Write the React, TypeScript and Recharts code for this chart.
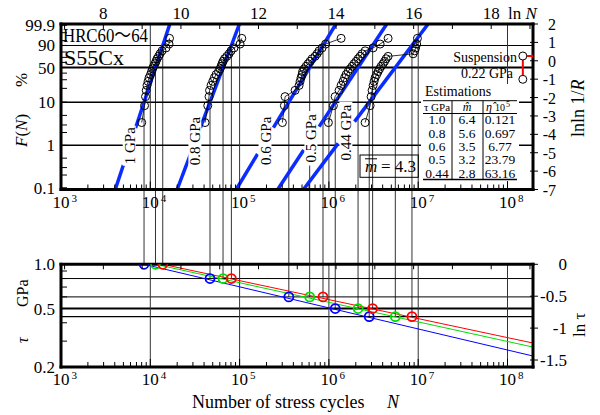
import React from 'react';
import { ComposedChart, Line, Scatter, XAxis, YAxis } from 'recharts';

const FONT = '"Liberation Serif", "Times New Roman", Times, serif';
const W = 600;
const H = 415;

// ---------------- axis ranges ----------------
const LN10 = Math.log(10);
const LN_MIN = Math.log(1000);
const LN_MAX = 19.078;
const W_MIN = -7;
const W_MAX = 2;
const LNTAU_MIN = Math.log(0.2);

// ---------------- categories / table ----------------
const levelLabels = ['1 GPa', '0.8 GPa', '0.6 GPa', '0.5 GPa', '0.44 GPa'];
const tauLevels = [1.0, 0.8, 0.6, 0.5, 0.44];
const tauText = ['1.0', '0.8', '0.6', '0.5', '0.44'];
const mHatText = ['6.4', '5.6', '3.5', '3.2', '2.8'];
const etaHatText = ['0.121', '0.697', '6.77', '23.79', '63.16'];
const mBarText = '4.3';

// ---------------- Weibull plot data: ordinate lnln(1/R) of each order ----------------
const rankLnLn = [-3.36, -2.44, -1.95, -1.61, -1.34, -1.12, -0.92, -0.75, -0.59, -0.44,
  -0.30, -0.16, -0.03, 0.11, 0.24, 0.38, 0.54, 0.70, 0.91, 1.22];
// ln N of each failure
const lnN_1_0 = [8.989, 9.062, 9.087, 9.105, 9.126, 9.152, 9.178, 9.216, 9.242, 9.268,
  9.294, 9.332, 9.358, 9.384, 9.423, 9.461, 9.513, 9.616, 9.693, 9.706];
const lnN_0_8 = [10.622, 10.692, 10.725, 10.738, 10.777, 10.821, 10.862, 10.906, 10.970, 11.009,
  11.035, 11.060, 11.086, 11.125, 11.182, 11.241, 11.293, 11.370, 11.525, 11.569];
const lnN_0_6 = [12.616, 12.667, 12.685, 12.943, 13.047, 13.072, 13.098, 13.124, 13.137, 13.176,
  13.227, 13.279, 13.330, 13.382, 13.459, 13.511, 13.562, 13.640, 13.730, 14.130];
const lnN_0_5 = [13.802, 13.931, 13.975, 14.078, 14.130, 14.182, 14.220, 14.259, 14.310, 14.362,
  14.414, 14.465, 14.517, 14.568, 14.620, 14.671, 14.749, 14.955, 15.136, 15.342];
const lnN_0_44 = [14.749, 14.878, 14.904, 14.929, 14.955, 14.981, 15.007, 15.046, 15.084, 15.123,
  15.162, 15.213, 15.252, 15.291, 15.342, 15.987, 16.026, 16.051, 16.077, 16.098];

// ---------------- fitted Weibull lines (read endpoints) ----------------
const fitTopLnN = [9.714, 11.509, 13.996, 15.307, 16.373]; // at lnln = 2
const fitBotLnN = [8.307, 9.902, 11.425, 12.495, 13.159]; // at lnln = -7
const gapUpperLnLn = [-3.655, -3.655, -3.64, -3.58, -3.31];
const gapUpperLnN = [8.830, 10.499, 12.385, 13.563, 14.477];
const gapLowerLnLn = [-5.667, -5.07, -5.07, -4.85, -4.49];
const gapLowerLnN = [8.516, 10.247, 11.976, 13.166, 14.055];
const labelLnLn = [-4.62, -4.36, -4.355, -4.215, -3.9];
const labelLnN = [8.679, 10.373, 12.181, 13.365, 14.266];

// ---------------- suspension (0.22 GPa) ----------------
const suspLnN = 18.816;
const suspLnLn = [0.26, -1.007];

// ---------------- S-N data: L10 / L50 / L90 lives (ln N) ----------------
const lnL10 = [9.049, 10.750, 12.782, 13.979, 14.855];
const lnL50 = [9.344, 11.086, 13.320, 14.567, 15.528];
const lnL90 = [9.531, 11.301, 13.663, 14.943, 15.957];
const statLnLn = [-2.25, -0.367, 0.834]; // F = 10 %, 50 %, 90 %
const snEndLnTau = [-1.4375, -1.297, -1.234]; // fitted lines at right edge

// ---------------- ticks ----------------
const fMajor = [0.1, 1, 10, 50, 90, 99.9];
const fMajorText = ['0.1', '1', '10', '50', '90', '99.9'];
const fMinor = [0.2, 0.3, 0.5, 2, 3, 5, 20, 30, 40, 60, 70, 80, 95, 99];
const fGrid = [90, 50, 10, 1];
const fGridWidth = [1.1, 2, 1.5, 1.5];
const rightTicksA = [-7, -6, -5, -4, -3, -2, -1, 0, 1, 2];
const lnTicks = [7, 8, 9, 10, 11, 12, 13, 14, 15, 16, 17, 18, 19];
const lnLabelled = [8, 10, 12, 14, 16, 18];
const decadeExps = [3, 4, 5, 6, 7, 8];
const tauTickVals = [1.0, 0.9, 0.8, 0.7, 0.6, 0.5, 0.4, 0.3, 0.2];
const tauTickText: Record<string, string> = { '1': '1.0', '0.5': '0.5', '0.2': '0.2' };
const tauGrid = [0.8, 0.6, 0.5, 0.44];
const tauGridWidth = [1, 1, 2, 1.2];
const rightTicksB = [0, -0.5, -1, -1.5];
const rightTicksBText = ['0', '-0.5', '-1', '-1.5'];

// ---------------- derived ----------------
const wF = (f: number) => Math.log(-Math.log(1 - f / 100));
const near = (a: number, b: number) => Math.abs(a - b) < 1e-6;
const leftTicksA = [...fMajor, ...fMinor].map(wF).sort((a, b) => a - b);
const logTicks: number[] = [];
decadeExps.forEach((k) => {
  for (let d = 1; d <= 9; d++) {
    const v = Math.log(d * Math.pow(10, k));
    if (v <= LN_MAX + 1e-9) logTicks.push(v);
  }
});
const tauTicks = tauTickVals.map((t) => Math.log(t));

const failureSeries = [lnN_1_0, lnN_0_8, lnN_0_6, lnN_0_5, lnN_0_44].map((arr) =>
  arr.map((x, i) => ({ x, y: rankLnLn[i] }))
);
const labelPoints = levelLabels.map((label, i) => ({ x: labelLnN[i], y: labelLnLn[i], label }));

const BLUE_FIT = '#0a2cff';
const SN_COLORS = ['#0000ff', '#00dd00', '#ff0000'];
const GRID = '#333';
const AXIS_LINE = { stroke: '#000', strokeWidth: 3, strokeLinecap: 'square' as const };

// plot frame positions (px)
const PL = 61;
const PR = 533;
const A_TOP = 24;
const A_BOT = 189.5;
const B_TOP = 264.3;
const B_BOT = 367;

// ---------------- tick renderers ----------------
const LeftTickA = (p: any) => {
  const v = p.payload.value;
  const y = p.y;
  const idx = fMajor.findIndex((f) => near(wF(f), v));
  return (
    <g>
      <line x1={PL} x2={PL + 6} y1={y} y2={y} stroke="#000" strokeWidth={1} />
      {idx >= 0 && (
        <text x={55} y={y + 6} textAnchor="end" fontSize={17} fontFamily={FONT} fill="#000">
          {fMajorText[idx]}
        </text>
      )}
    </g>
  );
};

const RightTickA = (p: any) => {
  const v = p.payload.value;
  const y = p.y;
  return (
    <g>
      <line x1={PR - 3} x2={PR + 5} y1={y} y2={y} stroke="#000" strokeWidth={1} />
      <text x={556} y={y + 6} textAnchor="end" fontSize={16} fontFamily={FONT} fill="#000">
        {String(v)}
      </text>
    </g>
  );
};

const makeBottomTick = (axisY: number, base: number) => (p: any) => {
  const v = p.payload.value;
  const x = p.x;
  const k = Math.round(v / LN10);
  const dec = near(v, k * LN10);
  return (
    <g>
      <line x1={x} x2={x} y1={axisY} y2={axisY - (dec ? 8 : 5)} stroke="#000" strokeWidth={1} />
      {dec && (
        <text x={x} y={base} textAnchor="middle" fontSize={17} fontFamily={FONT} fill="#000">
          10
        </text>
      )}
      {dec && (
        <text x={x + 10.5} y={base - 6} fontSize={11} fontFamily={FONT} fill="#000">
          {k}
        </text>
      )}
    </g>
  );
};

const makeTopTick = (axisY: number, withLabel: boolean) => (p: any) => {
  const v = p.payload.value;
  const x = p.x;
  return (
    <g>
      <line x1={x} x2={x} y1={axisY} y2={axisY + 5} stroke="#000" strokeWidth={1} />
      {withLabel && lnLabelled.includes(v) && (
        <text x={x} y={18.5} textAnchor="middle" fontSize={17} fontFamily={FONT} fill="#000">
          {v}
        </text>
      )}
    </g>
  );
};

const LeftTickB = (p: any) => {
  const v = p.payload.value;
  const y = p.y;
  const key = String(Math.round(Math.exp(v) * 100) / 100);
  const lab = tauTickText[key];
  return (
    <g>
      <line x1={PL} x2={PL + 6} y1={y} y2={y} stroke="#000" strokeWidth={1} />
      {lab && (
        <text x={55} y={y + 6} textAnchor="end" fontSize={17} fontFamily={FONT} fill="#000">
          {lab}
        </text>
      )}
    </g>
  );
};

const RightTickB = (p: any) => {
  const v = p.payload.value;
  const y = p.y;
  const idx = rightTicksB.findIndex((t) => near(t, v));
  return (
    <g>
      <line x1={PR - 3} x2={PR + 5} y1={y} y2={y} stroke="#000" strokeWidth={1} />
      <text x={567} y={y + 6} textAnchor="end" fontSize={17} fontFamily={FONT} fill="#000">
        {rightTicksBText[idx]}
      </text>
    </g>
  );
};

const bottomTickA = makeBottomTick(A_BOT, 208);
const bottomTickB = makeBottomTick(B_BOT, 385);
const topTickA = makeTopTick(A_TOP, true);
const topTickB = makeTopTick(B_TOP, false);

// ---------------- helpers ----------------
const seg = (
  key: string,
  data: { x: number; y: number }[],
  xId: string | number,
  yId: string | number,
  stroke: string,
  sw: number
) => (
  <Line
    key={key}
    data={data}
    dataKey="y"
    xAxisId={xId}
    yAxisId={yId}
    stroke={stroke}
    strokeWidth={sw}
    dot={false}
    activeDot={false}
    isAnimationActive={false}
    legendType="none"
  />
);

const GapLabel = (p: any) => {
  const label: string = p.payload.label;
  const w = label.length * 7.2 + 4;
  return (
    <g transform={`translate(${p.cx},${p.cy}) rotate(-90)`}>
      <rect x={-w / 2} y={-7} width={w} height={13} fill="#fff" />
      <text x={0} y={5} textAnchor="middle" fontSize={15} fontFamily={FONT} fill="#000">
        {label}
      </text>
    </g>
  );
};

const SuspMarker = (p: any) => {
  const { cx, cy, index } = p;
  return (
    <g>
      <circle cx={cx} cy={cy} r={4} fill="#fff" stroke="#000" strokeWidth={1} />
      {index === 0 && (
        <g>
          <line x1={cx + 4} x2={cx + 11} y1={cy} y2={cy} stroke="#ff0000" strokeWidth={2} />
          <polygon points={`${cx + 10},${cy - 3.5} ${cx + 16},${cy} ${cx + 10},${cy + 3.5}`} fill="#ff0000" />
        </g>
      )}
    </g>
  );
};

const SNCircle = (color: string) => (p: any) => (
  <circle cx={p.cx} cy={p.cy} r={4.5} fill="none" stroke={color} strokeWidth={1.8} />
);

// ---------------- charts ----------------
const TopChart = () => (
  <ComposedChart width={W} height={H} margin={{ top: 23, right: 66, bottom: 224.5, left: 60 }}>
    <XAxis xAxisId="b" type="number" dataKey="x" domain={[LN_MIN, LN_MAX]} allowDataOverflow orientation="bottom"
      height={1} ticks={logTicks} interval={0} tick={bottomTickA} tickLine={false} axisLine={AXIS_LINE} />
    <XAxis xAxisId="t" type="number" dataKey="x" domain={[LN_MIN, LN_MAX]} allowDataOverflow orientation="top"
      height={1} ticks={lnTicks} interval={0} tick={topTickA} tickLine={false} axisLine={AXIS_LINE} />
    <YAxis yAxisId="l" type="number" dataKey="y" domain={[W_MIN, W_MAX]} allowDataOverflow orientation="left"
      width={1} ticks={leftTicksA} interval={0} tick={LeftTickA} tickLine={false} axisLine={AXIS_LINE} />
    <YAxis yAxisId="r" type="number" dataKey="y" domain={[W_MIN, W_MAX]} allowDataOverflow orientation="right"
      width={1} ticks={rightTicksA} interval={0} tick={RightTickA} tickLine={false} axisLine={AXIS_LINE} />
    {fGrid.map((f, i) =>
      seg(`hg${i}`, [{ x: LN_MIN, y: wF(f) }, { x: LN_MAX, y: wF(f) }], 'b', 'l', '#000', fGridWidth[i])
    )}
    {decadeExps.slice(1).map((k) =>
      seg(`vg${k}`, [{ x: k * LN10, y: W_MIN }, { x: k * LN10, y: W_MAX }], 'b', 'l', GRID, 1)
    )}
    {levelLabels.map((_, i) =>
      seg(`fu${i}`, [{ x: gapUpperLnN[i], y: gapUpperLnLn[i] }, { x: fitTopLnN[i], y: W_MAX }], 'b', 'l', BLUE_FIT, 3.5)
    )}
    {levelLabels.map((_, i) =>
      seg(`fl${i}`, [{ x: fitBotLnN[i], y: W_MIN }, { x: gapLowerLnN[i], y: gapLowerLnLn[i] }], 'b', 'l', BLUE_FIT, 3.5)
    )}
    {failureSeries.map((d, i) => (
      <Line key={`d${i}`} data={d} dataKey="y" xAxisId="b" yAxisId="l" stroke="#000" strokeWidth={0.8}
        dot={{ r: 4, fill: 'none', stroke: '#000', strokeWidth: 1 }} activeDot={false}
        isAnimationActive={false} legendType="none" />
    ))}
    {seg('susp', [{ x: suspLnN, y: suspLnLn[0] }, { x: suspLnN, y: suspLnLn[1] }], 'b', 'l', '#ff0000', 2)}
    <Scatter data={suspLnLn.map((y) => ({ x: suspLnN, y }))} xAxisId="b" yAxisId="l" shape={SuspMarker}
      isAnimationActive={false} legendType="none" />
    <Scatter data={labelPoints} xAxisId="b" yAxisId="l" shape={GapLabel} isAnimationActive={false} legendType="none" />
  </ComposedChart>
);

const BottomChart = () => (
  <ComposedChart width={W} height={H} margin={{ top: B_TOP - 1, right: 66, bottom: H - B_BOT - 1, left: 60 }}>
    <XAxis xAxisId="b" type="number" dataKey="x" domain={[LN_MIN, LN_MAX]} allowDataOverflow orientation="bottom"
      height={1} ticks={logTicks} interval={0} tick={bottomTickB} tickLine={false} axisLine={AXIS_LINE} />
    <XAxis xAxisId="t" type="number" dataKey="x" domain={[LN_MIN, LN_MAX]} allowDataOverflow orientation="top"
      height={1} ticks={lnTicks} interval={0} tick={topTickB} tickLine={false} axisLine={AXIS_LINE} />
    <YAxis yAxisId="l" type="number" dataKey="y" domain={[LNTAU_MIN, 0]} allowDataOverflow orientation="left"
      width={1} ticks={tauTicks} interval={0} tick={LeftTickB} tickLine={false} axisLine={AXIS_LINE} />
    <YAxis yAxisId="r" type="number" dataKey="y" domain={[LNTAU_MIN, 0]} allowDataOverflow orientation="right"
      width={1} ticks={rightTicksB} interval={0} tick={RightTickB} tickLine={false} axisLine={AXIS_LINE} />
    {tauGrid.map((t, i) =>
      seg(`bh${i}`, [{ x: LN_MIN, y: Math.log(t) }, { x: LN_MAX, y: Math.log(t) }], 'b', 'l', '#000', tauGridWidth[i])
    )}
    {decadeExps.slice(1).map((k) =>
      seg(`bv${k}`, [{ x: k * LN10, y: LNTAU_MIN }, { x: k * LN10, y: 0 }], 'b', 'l', GRID, 1)
    )}
    {[lnL10, lnL50, lnL90].map((arr, j) =>
      seg(`sn${j}`, [{ x: arr[0], y: 0 }, { x: LN_MAX, y: snEndLnTau[j] }], 'b', 'l', SN_COLORS[j], 1)
    )}
    {[lnL10, lnL50, lnL90].map((arr, j) => (
      <Scatter key={`sc${j}`} data={arr.map((x, i) => ({ x, y: Math.log(tauLevels[i]) }))} xAxisId="b" yAxisId="l"
        shape={SNCircle(SN_COLORS[j])} isAnimationActive={false} legendType="none" />
    ))}
  </ComposedChart>
);

// connecting lines from the Weibull plot down to the S-N plot
const T_AT_A_BOT = 1.172;
const LinkChart = () => (
  <ComposedChart width={W} height={H} margin={{ top: A_TOP, right: W - PR, bottom: H - B_BOT, left: PL }}>
    <XAxis hide type="number" dataKey="x" domain={[LN_MIN, LN_MAX]} allowDataOverflow />
    <YAxis hide yAxisId="w" type="number" dataKey="y" domain={[-16.652, W_MAX]} allowDataOverflow />
    <YAxis hide yAxisId="t" type="number" dataKey="y" domain={[LNTAU_MIN, 3.766]} allowDataOverflow />
    {[lnL10, lnL50, lnL90].map((arr, j) =>
      arr.map((x, i) => seg(`lw${j}-${i}`, [{ x, y: statLnLn[j] }, { x, y: W_MIN }], 0, 'w', GRID, 1))
    )}
    {[lnL10, lnL50, lnL90].map((arr, j) =>
      arr.map((x, i) => seg(`lt${j}-${i}`, [{ x, y: T_AT_A_BOT }, { x, y: Math.log(tauLevels[i]) }], 0, 't', GRID, 1))
    )}
  </ComposedChart>
);

const ROW_BASE = 124.3;
const ROW_STEP = 13.35;

const Annotations = () => (
  <svg width={W} height={H} style={{ position: 'absolute', left: 0, top: 0, pointerEvents: 'none' }}>
    <g fontFamily={FONT} fill="#000">
      <text x={63} y={42} fontSize={19} textLength={85} lengthAdjust="spacingAndGlyphs"
        fontFamily={'"Liberation Serif", "Noto Sans CJK JP", serif'}>HRC60～64</text>
      <text x={64} y={65} fontSize={22}>S55Cx</text>
      <text x={508} y={18.5} fontSize={17}>ln <tspan fontStyle="italic">N</tspan></text>
      <text transform="translate(27,147) rotate(-90)" fontSize={17}>
        <tspan fontStyle="italic">F</tspan>(<tspan fontStyle="italic">N</tspan>)
      </text>
      <text transform="translate(27,87) rotate(-90)" fontSize={17}>%</text>
      <text transform="translate(584,137) rotate(-90)" fontSize={18}>
        lnln 1/<tspan fontStyle="italic">R</tspan>
      </text>
      <text transform="translate(28,343) rotate(-90)" fontSize={16} fontStyle="italic">τ</text>
      <text transform="translate(28,307) rotate(-90)" fontSize={16}>GPa</text>
      <text transform="translate(585,337) rotate(-90)" fontSize={17}>ln τ</text>
      <text x={192} y={408} fontSize={18}>Number of stress cycles</text>
      <text x={387} y={408} fontSize={18} fontStyle="italic">N</text>
      <text x={517} y={62} fontSize={14} textAnchor="end">Suspension</text>
      <text x={513} y={78} fontSize={14} textAnchor="end">0.22 GPa</text>

      {/* estimations table */}
      <rect x={421} y={84} width={98} height={97} fill="#fff" />
      <text x={425} y={96} fontSize={14}>Estimations</text>
      <line x1={423} x2={517} y1={100.7} y2={100.7} stroke="#000" strokeWidth={1} />
      <line x1={423} x2={517} y1={113.5} y2={113.5} stroke="#000" strokeWidth={1.2} />
      <line x1={423} x2={517} y1={179.5} y2={179.5} stroke="#000" strokeWidth={1.5} />
      <line x1={452} x2={452} y1={100.7} y2={179.5} stroke="#000" strokeWidth={1} />
      <line x1={483} x2={483} y1={100.7} y2={179.5} stroke="#000" strokeWidth={1} />
      <text x={437} y={111} fontSize={11} textAnchor="middle">τ GPa</text>
      <text x={467} y={111} fontSize={12} textAnchor="middle" fontStyle="italic">{'m\u0302'}</text>
      <text x={486} y={111} fontSize={11}>
        <tspan fontStyle="italic" fontSize={12}>{'η\u0302'}</tspan>
        <tspan dx={3} fontSize={10}>10</tspan>
        <tspan dx={1} dy={-4} fontSize={8}>5</tspan>
      </text>
      {tauText.map((t, i) => (
        <g key={`row${i}`}>
          <text x={437} y={ROW_BASE + i * ROW_STEP} fontSize={13.5} textAnchor="middle">{t}</text>
          <text x={467} y={ROW_BASE + i * ROW_STEP} fontSize={13.5} textAnchor="middle">{mHatText[i]}</text>
          <text x={500} y={ROW_BASE + i * ROW_STEP} fontSize={13.5} textAnchor="middle">{etaHatText[i]}</text>
        </g>
      ))}

      {/* mean shape parameter box */}
      <rect x={360} y={155} width={58.3} height={22.3} fill="none" stroke="#000" strokeWidth={1} />
      <text x={365} y={171.5} fontSize={17} fontStyle="italic">m</text>
      <line x1={365} x2={377} y1={158.8} y2={158.8} stroke="#000" strokeWidth={1} />
      <text x={381} y={171.5} fontSize={17}>= {mBarText}</text>
    </g>
  </svg>
);

export default function App() {
  const layer: React.CSSProperties = { position: 'absolute', left: 0, top: 0 };
  return (
    <div style={{ position: 'absolute', left: 0, top: 0, width: W, height: H, background: '#fff', overflow: 'hidden' }}>
      <div style={layer}><LinkChart /></div>
      <div style={layer}><TopChart /></div>
      <div style={layer}><BottomChart /></div>
      <Annotations />
    </div>
  );
}
